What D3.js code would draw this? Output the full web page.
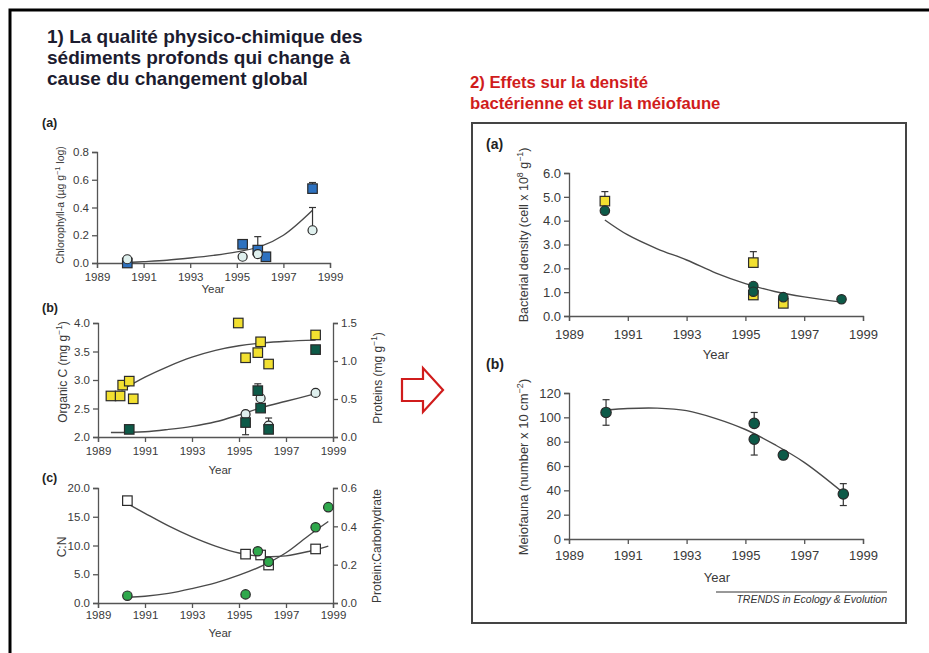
<!DOCTYPE html>
<html><head><meta charset="utf-8">
<script src="https://cdn.jsdelivr.net/npm/d3@7"></script>
<style>
body{margin:0;background:#fff}
svg{display:block}
text{font-family:"Liberation Sans",Arial,sans-serif}
</style>
</head><body>
<svg id="fig" width="929" height="653"></svg>
<script>
// ---------- data ----------
const yearTicks = [1989, 1991, 1993, 1995, 1997, 1999];

// 1(a) chlorophyll-a
const chlSqYears = [1990.3, 1995.25, 1995.9, 1996.25, 1998.25];
const chlSqVals  = [0.0, 0.135, 0.093, 0.045, 0.536];
const chlSqHigh  = [null, null, null, null, 0.58];
const chlCiYears = [1990.3, 1995.25, 1995.9, 1998.25];
const chlCiVals  = [0.027, 0.045, 0.064, 0.236];
const chlCiHigh  = [null, null, 0.19, 0.40];
const chlFitYears = [1990.3, 1991, 1992, 1993, 1994, 1995, 1996, 1997, 1998.25];
const chlFitVals  = [0.004, 0.01, 0.02, 0.036, 0.055, 0.08, 0.118, 0.2, 0.38];
const chlTicks = [0, 0.2, 0.4, 0.6, 0.8];

// 1(b) organic C (left axis) and proteins (right axis)
const orgYears = [1989.55, 1989.94, 1990.05, 1990.33, 1990.5, 1994.97, 1995.28, 1995.8, 1995.92, 1996.26, 1998.26];
const orgVals  = [2.72, 2.72, 2.91, 2.98, 2.67, 4.0, 3.39, 3.48, 3.67, 3.28, 3.79];
const orgFitYears = [1990.0, 1991, 1992, 1993, 1994, 1995, 1996, 1997, 1998.26];
const orgFitVals  = [2.82, 3.05, 3.24, 3.4, 3.52, 3.6, 3.65, 3.68, 3.7];
const protSqYears = [1990.33, 1995.28, 1995.8, 1995.92, 1996.26, 1998.26];
const protSqVals  = [0.10, 0.19, 0.61, 0.38, 0.10, 1.15];
const protSqLow   = [null, 0.03, null, null, null, null];
const protSqHigh  = [null, null, 0.70, null, null, null];
const protCiYears = [1995.28, 1995.92, 1996.26, 1998.26];
const protCiVals  = [0.30, 0.51, 0.15, 0.58];
const protCiHigh  = [0.34, null, 0.25, null];
const protFitYears = [1989.55, 1991, 1992, 1993, 1994, 1995, 1996, 1997, 1998.26];
const protFitVals  = [0.06, 0.07, 0.10, 0.14, 0.2, 0.29, 0.39, 0.47, 0.57];
const orgTicks  = [2.0, 2.5, 3.0, 3.5, 4.0];
const protTicks = [0.0, 0.5, 1.0, 1.5];

// 1(c) C:N (left axis) and protein:carbohydrate (right axis)
const cnYears = [1990.25, 1995.28, 1995.92, 1996.26, 1998.26];
const cnVals  = [17.8, 8.5, 8.35, 6.6, 9.4];
const cnFitYears = [1990.25, 1991, 1992, 1993, 1994, 1995, 1996, 1997, 1998, 1998.8];
const cnFitVals  = [17.3, 15.6, 13.4, 11.5, 9.9, 8.7, 8.1, 8.2, 9.0, 9.9];
const pcYears = [1990.25, 1995.28, 1995.8, 1996.26, 1998.26, 1998.8];
const pcVals  = [0.038, 0.045, 0.27, 0.215, 0.395, 0.50];
const pcFitYears = [1990.25, 1991, 1992, 1993, 1994, 1995, 1996, 1997, 1998, 1998.8];
const pcFitVals  = [0.03, 0.035, 0.05, 0.075, 0.105, 0.145, 0.195, 0.262, 0.355, 0.425];
const cnTicks = [0, 5, 10, 15, 20];
const pcTicks = [0, 0.2, 0.4, 0.6];

// 2(a) bacterial density
const bacSqYears = [1990.22, 1995.27, 1995.27, 1996.29];
const bacSqVals  = [4.82, 2.24, 0.88, 0.53];
const bacSqHigh  = [5.22, 2.70, null, null];
const bacCiYears = [1990.22, 1995.27, 1995.27, 1996.29, 1998.27];
const bacCiVals  = [4.42, 1.26, 1.02, 0.79, 0.70];
const bacFitYears = [1990.22, 1991, 1992, 1993, 1994, 1995, 1996, 1997, 1998.27];
const bacFitVals  = [4.03, 3.4, 2.82, 2.35, 1.8, 1.36, 1.03, 0.8, 0.58];
const bacTicks = [0, 1, 2, 3, 4, 5, 6];

// 2(b) meiofauna
const meioYears = [1990.26, 1995.3, 1995.3, 1996.29, 1998.33];
const meioVals  = [104, 95, 82, 69, 37];
const meioLow   = [93.5, null, 69, 66, 27.5];
const meioHigh  = [114.5, 104, null, 72, 45.5];
const meioFitYears = [1990.26, 1991, 1992, 1993, 1994, 1995, 1996, 1997, 1998.33];
const meioFitVals  = [106, 107.3, 107.6, 105.5, 99, 90, 77.5, 63, 38];
const meioTicks = [0, 20, 40, 60, 80, 100, 120];

// ---------- colours ----------
const C = {
  ink: "#3a3a3a", axis: "#555", fit: "#4a4a4a",
  blue: "#2e72c0", pale: "#dff0ee", yellow: "#f2e030", teal: "#0d5a48",
  green: "#2fa84c", white: "#ffffff", red: "#d01c1c", title: "#1c1c30"
};

const svg = d3.select("#fig");
const zip = (a, b, c, d) => a.map((v, i) => ({x: v, y: b[i], lo: c ? c[i] : null, hi: d ? d[i] : null}));

// ---------- frame, titles, arrow ----------
svg.append("rect").attr("x", 10).attr("y", 10).attr("width", 960).attr("height", 700)
  .attr("fill", "none").attr("stroke", "#000").attr("stroke-width", 3);
svg.append("rect").attr("x", 472).attr("y", 123).attr("width", 434).attr("height", 500)
  .attr("fill", "none").attr("stroke", "#444").attr("stroke-width", 2);

const leftTitle = ["1) La qualité physico-chimique des", "sédiments profonds qui change à", "cause du changement global"];
const rightTitle = ["2) Effets sur la densité", "bactérienne et sur la méiofaune"];
svg.append("g").selectAll("text").data(leftTitle).join("text")
  .attr("x", 47).attr("y", (d, i) => 43 + i * 21)
  .attr("font-size", 19).attr("font-weight", "bold").attr("fill", C.title).text(d => d);
svg.append("g").selectAll("text").data(rightTitle).join("text")
  .attr("x", 470).attr("y", (d, i) => 88 + i * 21)
  .attr("font-size", 16.7).attr("font-weight", "bold").attr("fill", C.red).text(d => d);

svg.append("polygon")
  .attr("points", [[402, 379], [423, 379], [423, 368], [443, 390], [423, 412], [423, 401], [402, 401]].join(" "))
  .attr("fill", "#fff").attr("stroke", C.red).attr("stroke-width", 2.2).attr("stroke-linejoin", "miter");

// ---------- helpers ----------
function xAxis(x, y0, fs, pad) {
  const g = svg.append("g").attr("transform", `translate(0,${y0})`)
    .call(d3.axisBottom(x).tickValues(yearTicks).tickFormat(d3.format("d")).tickSize(5).tickPadding(pad));
  styleAxis(g, fs);
}
function yAxis(y, x0, ticks, fmt, fs, right) {
  const ax = right ? d3.axisRight(y) : d3.axisLeft(y);
  const g = svg.append("g").attr("transform", `translate(${x0},0)`)
    .call(ax.tickValues(ticks).tickFormat(fmt).tickSize(5).tickPadding(3));
  styleAxis(g, fs);
}
function styleAxis(g, fs) {
  g.select(".domain").attr("stroke", C.axis).attr("stroke-width", 1.3);
  g.selectAll(".tick line").attr("stroke", C.axis).attr("stroke-width", 1.3);
  g.selectAll(".tick text").attr("fill", C.ink).attr("font-size", fs)
    .attr("font-family", "Liberation Sans, Arial, sans-serif");
}
// rotated axis title; parts are plain strings or {sup: "..."} superscripts
function vLabel(x, y, parts, fs) {
  const t = svg.append("text").attr("transform", `translate(${x},${y}) rotate(-90)`)
    .attr("text-anchor", "middle").attr("font-size", fs).attr("fill", C.ink);
  let shift = 0;
  parts.forEach(p => {
    if (typeof p === "string") {
      t.append("tspan").attr("dy", -shift).attr("font-size", fs).text(p);
      shift = 0;
    } else {
      const up = fs * 0.4;
      t.append("tspan").attr("dy", -up - shift).attr("font-size", fs * 0.7).text(p.sup);
      shift = -up;
    }
  });
}
function label(x, y, txt, fs, bold, anchor) {
  svg.append("text").attr("x", x).attr("y", y).attr("font-size", fs)
    .attr("font-weight", bold ? "bold" : null).attr("text-anchor", anchor || "start")
    .attr("fill", bold ? "#222" : C.ink).text(txt);
}
function fit(x, y, xs, ys) {
  svg.append("path").datum(zip(xs, ys))
    .attr("d", d3.line().x(d => x(d.x)).y(d => y(d.y)).curve(d3.curveCatmullRom.alpha(0.5)))
    .attr("fill", "none").attr("stroke", C.fit).attr("stroke-width", 1.4);
}
function errBars(x, y, data) {
  const g = svg.append("g").attr("stroke", "#333").attr("stroke-width", 1.2);
  data.forEach(d => {
    [d.lo, d.hi].forEach(v => {
      if (v == null) return;
      g.append("line").attr("x1", x(d.x)).attr("x2", x(d.x)).attr("y1", y(d.y)).attr("y2", y(v));
      g.append("line").attr("x1", x(d.x) - 3.5).attr("x2", x(d.x) + 3.5).attr("y1", y(v)).attr("y2", y(v));
    });
  });
}
function squares(x, y, data, fill, s) {
  svg.append("g").selectAll("rect").data(data).join("rect")
    .attr("x", d => x(d.x) - s / 2).attr("y", d => y(d.y) - s / 2)
    .attr("width", s).attr("height", s).attr("fill", fill).attr("stroke", "#2a2a2a").attr("stroke-width", 1.2);
}
function circles(x, y, data, fill, r) {
  svg.append("g").selectAll("circle").data(data).join("circle")
    .attr("cx", d => x(d.x)).attr("cy", d => y(d.y)).attr("r", r)
    .attr("fill", fill).attr("stroke", "#2a2a2a").attr("stroke-width", 1.2);
}

// ---------- 1(a) ----------
{
  const x = d3.scaleLinear().domain([1989, 1999]).range([97, 330]);
  const y = d3.scaleLinear().domain([0, 0.8]).range([263, 152]);
  xAxis(x, 263, 11.5, 5);
  yAxis(y, 97, chlTicks, d3.format(".1f"), 11.5);
  label(42, 127, "(a)", 12.5, true);
  label(213, 293, "Year", 11.5, false, "middle");
  vLabel(64, 205, ["Chlorophyll-a (µg g", {sup: "−1"}, " log)"], 10.5);
  fit(x, y, chlFitYears, chlFitVals);
  const sq = zip(chlSqYears, chlSqVals, null, chlSqHigh);
  const ci = zip(chlCiYears, chlCiVals, null, chlCiHigh);
  errBars(x, y, ci); errBars(x, y, sq);
  squares(x, y, sq, C.blue, 9.5);
  circles(x, y, ci, C.pale, 4.5);
}

// ---------- 1(b) ----------
{
  const x = d3.scaleLinear().domain([1989, 1999]).range([98, 333]);
  const yL = d3.scaleLinear().domain([2, 4]).range([437, 323]);
  const yR = d3.scaleLinear().domain([0, 1.5]).range([437, 323]);
  xAxis(x, 437, 11.5, 5);
  yAxis(yL, 98, orgTicks, d3.format(".1f"), 11.5);
  yAxis(yR, 333, protTicks, d3.format(".1f"), 11.5, true);
  label(42, 312, "(b)", 12.5, true);
  label(220, 474, "Year", 11.5, false, "middle");
  vLabel(67, 372, ["Organic C (mg g", {sup: "−1"}, ")"], 12);
  vLabel(382, 378, ["Proteins (mg g", {sup: "−1"}, ")"], 12);
  fit(x, yL, orgFitYears, orgFitVals);
  fit(x, yR, protFitYears, protFitVals);
  const org = zip(orgYears, orgVals);
  const psq = zip(protSqYears, protSqVals, protSqLow, protSqHigh);
  const pci = zip(protCiYears, protCiVals, null, protCiHigh);
  errBars(x, yR, pci); errBars(x, yR, psq);
  squares(x, yL, org, C.yellow, 9.5);
  circles(x, yR, pci, C.pale, 4.5);
  squares(x, yR, psq, C.teal, 9.5);
}

// ---------- 1(c) ----------
{
  const x = d3.scaleLinear().domain([1989, 1999]).range([98, 333]);
  const yL = d3.scaleLinear().domain([0, 20]).range([603, 488]);
  const yR = d3.scaleLinear().domain([0, 0.6]).range([603, 488]);
  xAxis(x, 603, 11.5, 3);
  yAxis(yL, 98, cnTicks, d3.format(".1f"), 11.5);
  yAxis(yR, 333, pcTicks, d3.format(".1f"), 11.5, true);
  label(42, 482, "(c)", 12.5, true);
  label(220, 637, "Year", 11.5, false, "middle");
  vLabel(66, 547, ["C:N"], 12);
  vLabel(381, 546, ["Protein:Carbohydrate"], 12);
  fit(x, yL, cnFitYears, cnFitVals);
  fit(x, yR, pcFitYears, pcFitVals);
  squares(x, yL, zip(cnYears, cnVals), C.white, 9.5);
  circles(x, yR, zip(pcYears, pcVals), C.green, 4.7);
}

// ---------- 2(a) ----------
{
  const x = d3.scaleLinear().domain([1989, 1999]).range([569, 863]);
  const y = d3.scaleLinear().domain([0, 6]).range([316, 173]);
  xAxis(x, 316, 13, 9);
  yAxis(y, 569, bacTicks, d3.format(".1f"), 13);
  label(486, 149, "(a)", 14, true);
  label(716, 359, "Year", 13, false, "middle");
  vLabel(528, 235, ["Bacterial density (cell x 10", {sup: "8"}, " g", {sup: "−1"}, ")"], 12.5);
  fit(x, y, bacFitYears, bacFitVals);
  const sq = zip(bacSqYears, bacSqVals, null, bacSqHigh);
  errBars(x, y, sq);
  squares(x, y, sq, C.yellow, 9.5);
  circles(x, y, zip(bacCiYears, bacCiVals), C.teal, 4.7);
}

// ---------- 2(b) ----------
{
  const x = d3.scaleLinear().domain([1989, 1999]).range([569, 863]);
  const y = d3.scaleLinear().domain([0, 120]).range([539, 393]);
  xAxis(x, 539, 13, 7);
  yAxis(y, 569, meioTicks, d3.format("d"), 13);
  label(486, 369, "(b)", 14, true);
  label(717, 582, "Year", 13, false, "middle");
  vLabel(528, 467, ["Meiofauna (number x 10 cm", {sup: "−2"}, ")"], 13);
  fit(x, y, meioFitYears, meioFitVals);
  const pts = zip(meioYears, meioVals, meioLow, meioHigh);
  errBars(x, y, pts);
  circles(x, y, pts, C.teal, 5.2);
}

// journal credit
svg.append("line").attr("x1", 716).attr("x2", 887).attr("y1", 592).attr("y2", 592)
  .attr("stroke", "#333").attr("stroke-width", 1);
svg.append("text").attr("x", 887).attr("y", 603).attr("text-anchor", "end")
  .attr("font-size", 10.5).attr("font-style", "italic").attr("fill", "#333")
  .text("TRENDS in Ecology & Evolution");
</script>
</body></html>
